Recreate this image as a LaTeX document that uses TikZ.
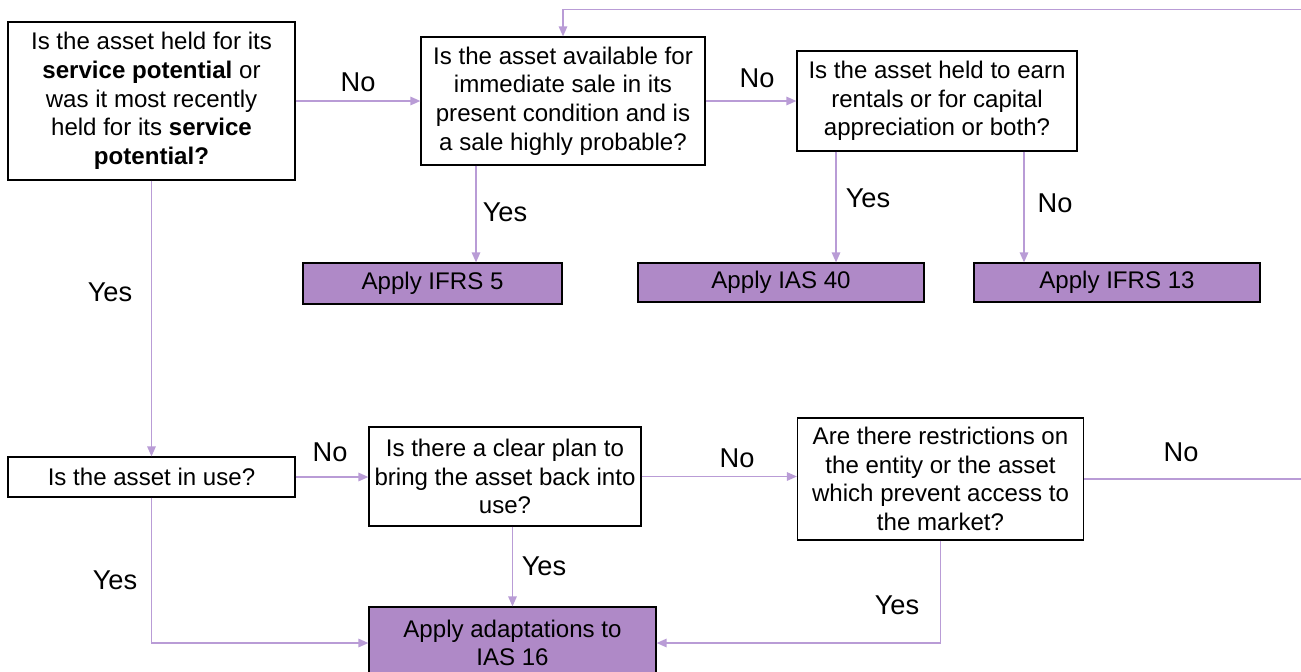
\documentclass[tikz,border=0pt]{standalone}
\usepackage{fontspec}
\setmainfont{Liberation Sans}
\usepackage{xcolor}
\usetikzlibrary{calc}
\usetikzlibrary{arrows.meta}
\definecolor{flowline}{RGB}{185,156,214}
\definecolor{applyfill}{RGB}{175,137,199}

\tikzset{
  question/.style={draw=black, line width=0.7pt, align=center, inner sep=0pt,
    font=\fontsize{13.7}{16.3}\selectfont},
  apply/.style={question, fill=applyfill},
  flow/.style={draw=flowline, line width=0.85pt, -{Triangle[length=2mm,width=1.7mm]}},
  answer/.style={font=\fontsize{15.5}{18}\selectfont},
}

\begin{document}
\begin{tikzpicture}
    \useasboundingbox (0,0) rectangle (26.02,-13.42);
    \clip (0,0) rectangle (26.02,-13.42);
    % questions
    \node[question, minimum width=5.74cm, minimum height=3.16cm] (service) at (3.03,-2.02)
      {Is the asset held for its\\ \textbf{service potential} or\\ was it most recently\\ held for its \textbf{service}\\ \textbf{potential?}};
    \node[question, minimum width=5.68cm, minimum height=2.56cm] (sale) at (11.26,-2.02)
      {Is the asset available for\\ immediate sale in its\\ present condition and is\\ a sale highly probable?};
    \node[question, minimum width=5.6cm, minimum height=2.0cm] (rental) at (18.74,-2.02)
      {Is the asset held to earn\\ rentals or for capital\\ appreciation or both?};
    \node[question, minimum width=5.74cm, minimum height=0.8cm] (inuse) at (3.03,-9.54)
      {Is the asset in use?};
    \node[question, minimum width=5.44cm, minimum height=1.98cm] (plan) at (10.1,-9.53)
      {Is there a clear plan to\\ bring the asset back into\\ use?};
    \node[question, minimum width=5.72cm, minimum height=2.44cm] (restrict) at (18.81,-9.58)
      {Are there restrictions on\\ the entity or the asset\\ which prevent access to\\ the market?};
    % outcomes
    \node[apply, minimum width=5.18cm, minimum height=0.82cm] (ifrs5) at (8.65,-5.67) {Apply IFRS 5};
    \node[apply, minimum width=5.72cm, minimum height=0.78cm] (ias40) at (15.62,-5.65) {Apply IAS 40};
    \node[apply, minimum width=5.72cm, minimum height=0.78cm] (ifrs13) at (22.34,-5.65) {Apply IFRS 13};
    \node[apply, minimum width=5.74cm, minimum height=1.44cm] (adapt) at (10.25,-12.86)
      {Apply adaptations to\\ IAS 16};
    % drop points and the loop back
    \coordinate (saleyes) at (9.52,0);
    \coordinate (rentyes) at (16.72,0);
    \coordinate (rentno) at (20.48,0);
    \coordinate (loop) at (26.4,-0.19);
    % connectors
    \draw[flow] (service) -- (sale);
    \draw[flow] (sale) -- (rental);
    \draw[flow] (service) -- (inuse);
    \draw[flow] (sale.south -| saleyes) -- (ifrs5.north -| saleyes);
    \draw[flow] (rental.south -| rentyes) -- (ias40.north -| rentyes);
    \draw[flow] (rental.south -| rentno) -- (ifrs13.north -| rentno);
    \draw[flow] (inuse.east) -- (inuse.east -| plan.west);
    \draw[flow] (plan.east) -- (plan.east -| restrict.west);
    \draw[flow] (plan.south -| adapt.north) -- (adapt.north);
    \draw[flow] (inuse.south) |- (adapt.west);
    \draw[flow] (restrict.south) |- (adapt.east);
    \draw[flow] (restrict.east) -| (loop) -| (sale.north);
    % answers
    \node[answer] (no1) at (7.16,-1.64) {No};
    \node[answer] (no2) at (15.14,-1.56) {No};
    \node[answer] (yes1) at (10.1,-4.24) {Yes};
    \node[answer] (yes2) at (17.36,-3.96) {Yes};
    \node[answer] (no3) at (21.1,-4.06) {No};
    \node[answer] (yes3) at (2.2,-5.84) {Yes};
    \node[answer] (no4) at (6.6,-9.04) {No};
    \node[answer] (no5) at (14.74,-9.16) {No};
    \node[answer] (yes4) at (10.88,-11.32) {Yes};
    \node[answer] (yes5) at (2.3,-11.6) {Yes};
    \node[answer] (no6) at (23.62,-9.04) {No};
    \node[answer] (yes6) at (17.94,-12.1) {Yes};
\end{tikzpicture}
\end{document}
